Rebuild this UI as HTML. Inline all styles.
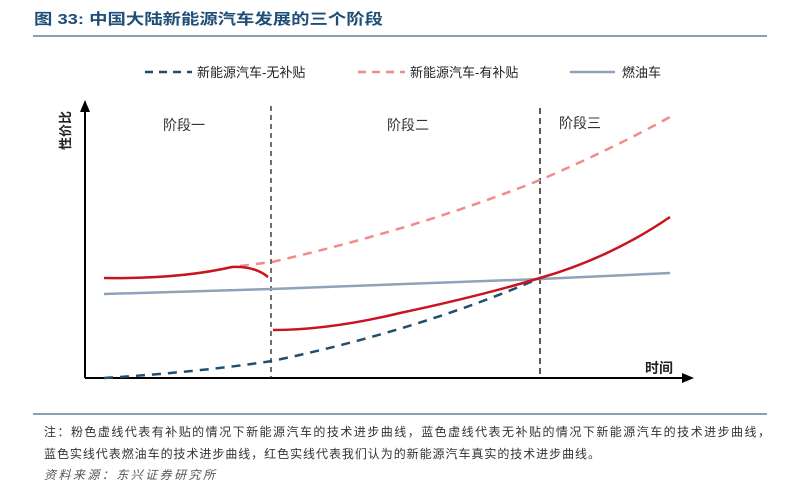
<!DOCTYPE html>
<html><head><meta charset="utf-8"><style>
body{margin:0;background:#fff;width:800px;height:490px;overflow:hidden;font-family:"Liberation Sans","Noto Sans CJK SC",sans-serif}
</style></head><body>
<svg width="800" height="490" xmlns="http://www.w3.org/2000/svg" font-family="Liberation Sans, Noto Sans CJK SC, sans-serif">
<text x="34" y="24" font-size="15" font-weight="bold" fill="#1f4e79" textLength="349" lengthAdjust="spacingAndGlyphs">图 33: 中国大陆新能源汽车发展的三个阶段</text>
<line x1="33" y1="36" x2="767" y2="36" stroke="#8aa0b4" stroke-width="2"/>
<!-- legend -->
<line x1="145" y1="72" x2="192" y2="72" stroke="#1f4e6e" stroke-width="2.5" stroke-dasharray="8,6"/>
<text x="197" y="77" font-size="13" fill="#222">新能源汽车-无补贴</text>
<line x1="358" y1="72" x2="405" y2="72" stroke="#f08c8c" stroke-width="2.5" stroke-dasharray="8,6"/>
<text x="410" y="77" font-size="13" fill="#222">新能源汽车-有补贴</text>
<line x1="570" y1="72" x2="615" y2="72" stroke="#8ea2b8" stroke-width="2.5"/>
<text x="622" y="77" font-size="13" fill="#222">燃油车</text>
<!-- axes -->
<line x1="85" y1="378" x2="685" y2="378" stroke="#000" stroke-width="2"/>
<polygon points="694,378 682,373 682,383" fill="#000"/>
<line x1="85" y1="378" x2="85" y2="110" stroke="#000" stroke-width="2"/>
<polygon points="85,100 80,112 90,112" fill="#000"/>
<text x="0" y="0" font-size="13" font-weight="bold" fill="#222" transform="translate(70,150) rotate(-90)">性价比</text>
<text x="645" y="373" font-size="14" font-weight="bold" fill="#222">时间</text>
<line x1="271" y1="106" x2="271" y2="378" stroke="#222" stroke-width="1.3" stroke-dasharray="5,4"/>
<line x1="540" y1="108" x2="540" y2="378" stroke="#222" stroke-width="1.5" stroke-dasharray="6,4"/>
<text x="184" y="130" font-size="14" fill="#333" text-anchor="middle">阶段一</text>
<text x="408" y="130" font-size="14" fill="#333" text-anchor="middle">阶段二</text>
<text x="580" y="128" font-size="14" fill="#333" text-anchor="middle">阶段三</text>
<!-- grey -->
<path d="M104,294 L272,289 L540,279 L670,273" fill="none" stroke="#8ea2b8" stroke-width="2.5"/>
<!-- pink dashed -->
<path d="M240,266 L272,262 Q420,228 540,180 Q610,150 670,117" fill="none" stroke="#f08c8c" stroke-width="2.5" stroke-dasharray="9,7"/>
<!-- blue dashed -->
<path d="M104,378 Q200,372 272,361 Q420,330 540,278" fill="none" stroke="#1f4e6e" stroke-width="2.5" stroke-dasharray="9,7"/>
<!-- red -->
<path d="M104,278 Q180,279 232,267 Q255,266 268,277" fill="none" stroke="#c8141e" stroke-width="2.5"/>
<path d="M273,330 Q330,330 400,313 Q480,296 540,278 Q610,258 670,217" fill="none" stroke="#c8141e" stroke-width="2.5"/>
<line x1="33" y1="414" x2="767" y2="414" stroke="#8aa0b4" stroke-width="2"/>
<text x="44" y="436" font-size="12" fill="#333" textLength="726" lengthAdjust="spacing">注：粉色虚线代表有补贴的情况下新能源汽车的技术进步曲线，蓝色虚线代表无补贴的情况下新能源汽车的技术进步曲线，</text>
<text x="44" y="458" font-size="12" fill="#333" textLength="556" lengthAdjust="spacing">蓝色实线代表燃油车的技术进步曲线，红色实线代表我们认为的新能源汽车真实的技术进步曲线。</text>
<text x="44" y="479" font-size="12" font-style="italic" fill="#555" textLength="171" lengthAdjust="spacing">资料来源：东兴证券研究所</text>
</svg>
</body></html>
